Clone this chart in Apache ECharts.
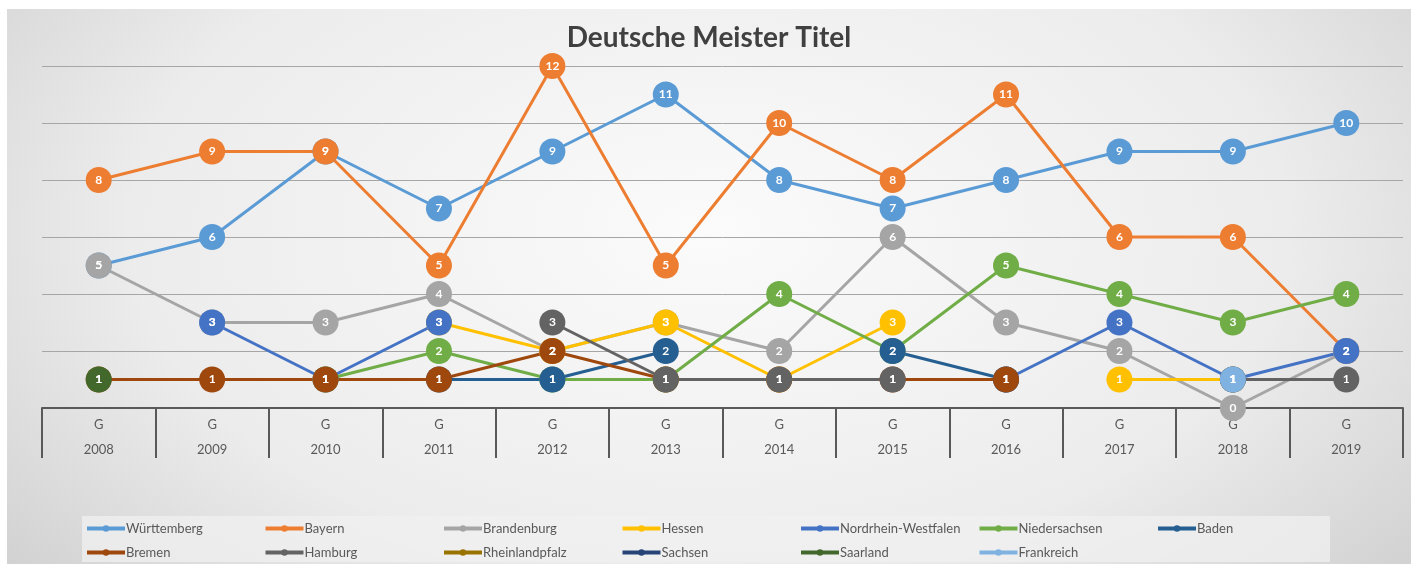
<!DOCTYPE html>
<html lang="de">
  <head>
    <meta charset="utf-8" />
    <title>Deutsche Meister Titel</title>
    <script src="https://cdn.jsdelivr.net/npm/echarts@6/dist/echarts.min.js"></script>
    <style>
      body { margin: 0; background: #ffffff; }
      #wrap {
        position: absolute; left: 7px; top: 9px; width: 1404px; height: 555px;
        background: radial-gradient(ellipse 75% 110% at 50% 40%, #fbfbfb 0%, #ececec 55%, #c6c6c6 100%);
      }
      #chart1 { width: 100%; height: 100%; }
    </style>
  </head>
  <body>
    <div id="wrap"><div id="chart1"></div></div>
    <script type="text/javascript">
      // Jahre (Kategorien)
      var years = ["2008", "2009", "2010", "2011", "2012", "2013", "2014", "2015", "2016", "2017", "2018", "2019"];

      // Titel pro Land und Jahr (null = kein Wert)
      var wuerttemberg = [5, 6, 9, 7, 9, 11, 8, 7, 8, 9, 9, 10];
      var bayern = [8, 9, 9, 5, 12, 5, 10, 8, 11, 6, 6, 2];
      var brandenburg = [5, 3, 3, 4, 2, 3, 2, 6, 3, 2, 0, 2];
      var hessen = [null, null, null, 3, 2, 3, 1, 3, null, 1, 1, null];
      var nrw = [null, 3, 1, 3, null, null, null, null, 1, 3, 1, 2];
      var niedersachsen = [null, null, 1, 2, 1, 1, 4, 2, 5, 4, 3, 4];
      var baden = [null, null, null, 1, 1, 2, null, 2, 1, null, null, null];
      var bremen = [1, 1, 1, 1, 2, 1, 1, 1, 1, null, null, null];
      var hamburg = [null, null, null, null, 3, 1, 1, 1, null, null, 1, 1];
      var rheinlandpfalz = [null, null, null, null, null, null, null, null, null, null, null, null];
      var sachsen = [null, null, null, null, null, null, null, null, null, null, null, null];
      var saarland = [1, null, null, null, null, null, null, null, null, null, null, null];
      var frankreich = [null, null, null, null, null, null, null, null, null, null, 1, null];

      var names = ["Württemberg", "Bayern", "Brandenburg", "Hessen", "Nordrhein-Westfalen", "Niedersachsen", "Baden",
                   "Bremen", "Hamburg", "Rheinlandpfalz", "Sachsen", "Saarland", "Frankreich"];
      var values = [wuerttemberg, bayern, brandenburg, hessen, nrw, niedersachsen, baden,
                    bremen, hamburg, rheinlandpfalz, sachsen, saarland, frankreich];
      var colors = ["#5B9BD5", "#ED7D31", "#A5A5A5", "#FFC000", "#4472C4", "#70AD47", "#255E91",
                    "#9E480E", "#636363", "#997300", "#264478", "#43682B", "#7FB2E0"];

      var series = [];
      for (var i = 0; i < names.length; i++) {
        series.push({
          name: names[i],
          type: "line",
          data: values[i],
          color: colors[i],
          symbol: "circle",
          symbolSize: 26,
          lineStyle: { width: 3 },
          itemStyle: { color: colors[i] },
          label: {
            show: true,
            position: "inside",
            color: "#ffffff",
            fontWeight: "bold",
            fontSize: 12,
            fontFamily: "Lato",
          },
          emphasis: { disabled: true },
          clip: false,
          animation: false,
        });
      }

      // Legende: ein Eintrag pro Legende, 7 Spalten x 2 Zeilen
      var legends = [];
      for (var k = 0; k < names.length; k++) {
        legends.push({
          data: [names[k]],
          left: 73 + (k % 7) * 178.5,
          top: k < 7 ? 508 : 532,
          itemWidth: 38,
          itemHeight: 8,
          lineStyle: { width: 4 },
          selectedMode: false,
          textStyle: { color: "#595959", fontSize: 13, fontFamily: "Lato", padding: [0, 0, 0, -4] },
        });
      }

      var myChart = echarts.init(document.getElementById("chart1"));
      myChart.setOption({
        animation: false,
        title: {
          text: "Deutsche Meister Titel",
          left: "center",
          top: 10,
          textStyle: { color: "#404040", fontSize: 28, fontWeight: "bold", fontFamily: "Lato" },
        },
        graphic: [
          {
            type: "rect",
            shape: { x: 75, y: 507, width: 1248, height: 46 },
            style: { fill: "rgba(240,240,240,0.75)" },
            silent: true,
            z: -1,
          },
        ],
        legend: legends,
        grid: { left: 35, right: 8, top: 57, bottom: 156 },
        xAxis: {
          type: "category",
          data: years,
          boundaryGap: true,
          axisLine: { lineStyle: { color: "#595959", width: 2 } },
          axisTick: { show: true, length: 50, interval: 0, lineStyle: { color: "#595959", width: 2 } },
          axisLabel: {
            interval: 0,
            margin: 4,
            color: "#595959",
            fontSize: 13,
            fontFamily: "Lato",
            lineHeight: 25,
            formatter: function (v) { return "G\n" + v; },
          },
        },
        yAxis: {
          type: "value",
          min: 0,
          max: 12,
          interval: 2,
          axisLabel: { show: false },
          axisLine: { show: false },
          axisTick: { show: false },
          splitLine: { lineStyle: { color: "#a6a6a6", width: 1 } },
        },
        series: series,
      });
    </script>
  </body>
</html>
